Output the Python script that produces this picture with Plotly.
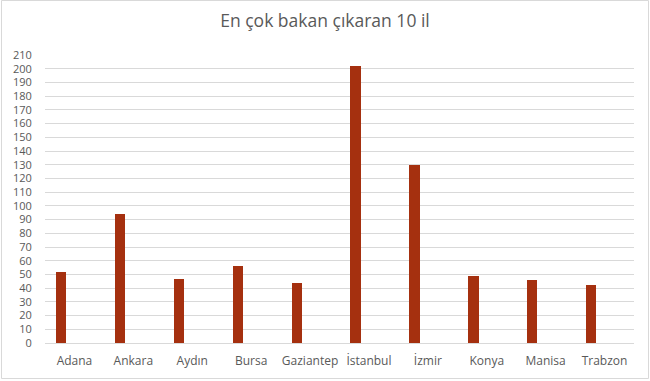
import plotly.graph_objects as go

cities = ["Adana", "Ankara", "Aydın", "Bursa", "Gaziantep", "İstanbul", "İzmir", "Konya", "Manisa", "Trabzon"]
counts = [52, 94, 47, 56, 44, 202, 130, 49, 46, 42]
y_ticks = list(range(0, 211, 10))

W, H = 650, 381
ml, mr, mt, mb = 45, 16, 55, 38
pw, ph = W - ml - mr, H - mt - mb

fig = go.Figure(go.Bar(
    x=cities, y=counts,
    marker=dict(color="#A5300F", line=dict(width=0)),
    width=0.175, offset=-0.315,
    hoverinfo="x+y",
))

font_fam = "Open Sans, sans-serif"
fig.update_layout(
    width=W, height=H,
    margin=dict(l=ml, r=mr, t=mt, b=mb),
    paper_bgcolor="white", plot_bgcolor="white",
    title=dict(text="En çok bakan çıkaran 10 il", x=0.5, xref="container", xanchor="center",
               y=1 - 21 / H, yanchor="middle",
               font=dict(family=font_fam, size=17.5, color="#595959")),
    font=dict(family=font_fam, size=12, color="#595959"),
    showlegend=False,
    bargap=0,
    xaxis=dict(showgrid=False, showline=True, linecolor="#D9D9D9", linewidth=1,
               ticks="outside", ticklen=7, tickcolor="rgba(0,0,0,0)",
               tickfont=dict(size=12, color="#595959")),
    yaxis=dict(range=[0, 210], tickvals=y_ticks, showgrid=True, gridcolor="#D9D9D9", gridwidth=1,
               zeroline=False, showline=False, ticks="outside", ticklen=10, tickcolor="rgba(0,0,0,0)",
               tickfont=dict(size=11, color="#595959")),
    shapes=[dict(type="rect", xref="paper", yref="paper",
                 x0=(1.5 - ml) / pw, x1=(W - 1.5 - ml) / pw,
                 y0=(H - mb - (H - 2.5)) / ph, y1=(H - mb - 0.5) / ph,
                 line=dict(color="#D9D9D9", width=1), fillcolor="rgba(0,0,0,0)", layer="below")],
)

fig.write_html("out.html")
